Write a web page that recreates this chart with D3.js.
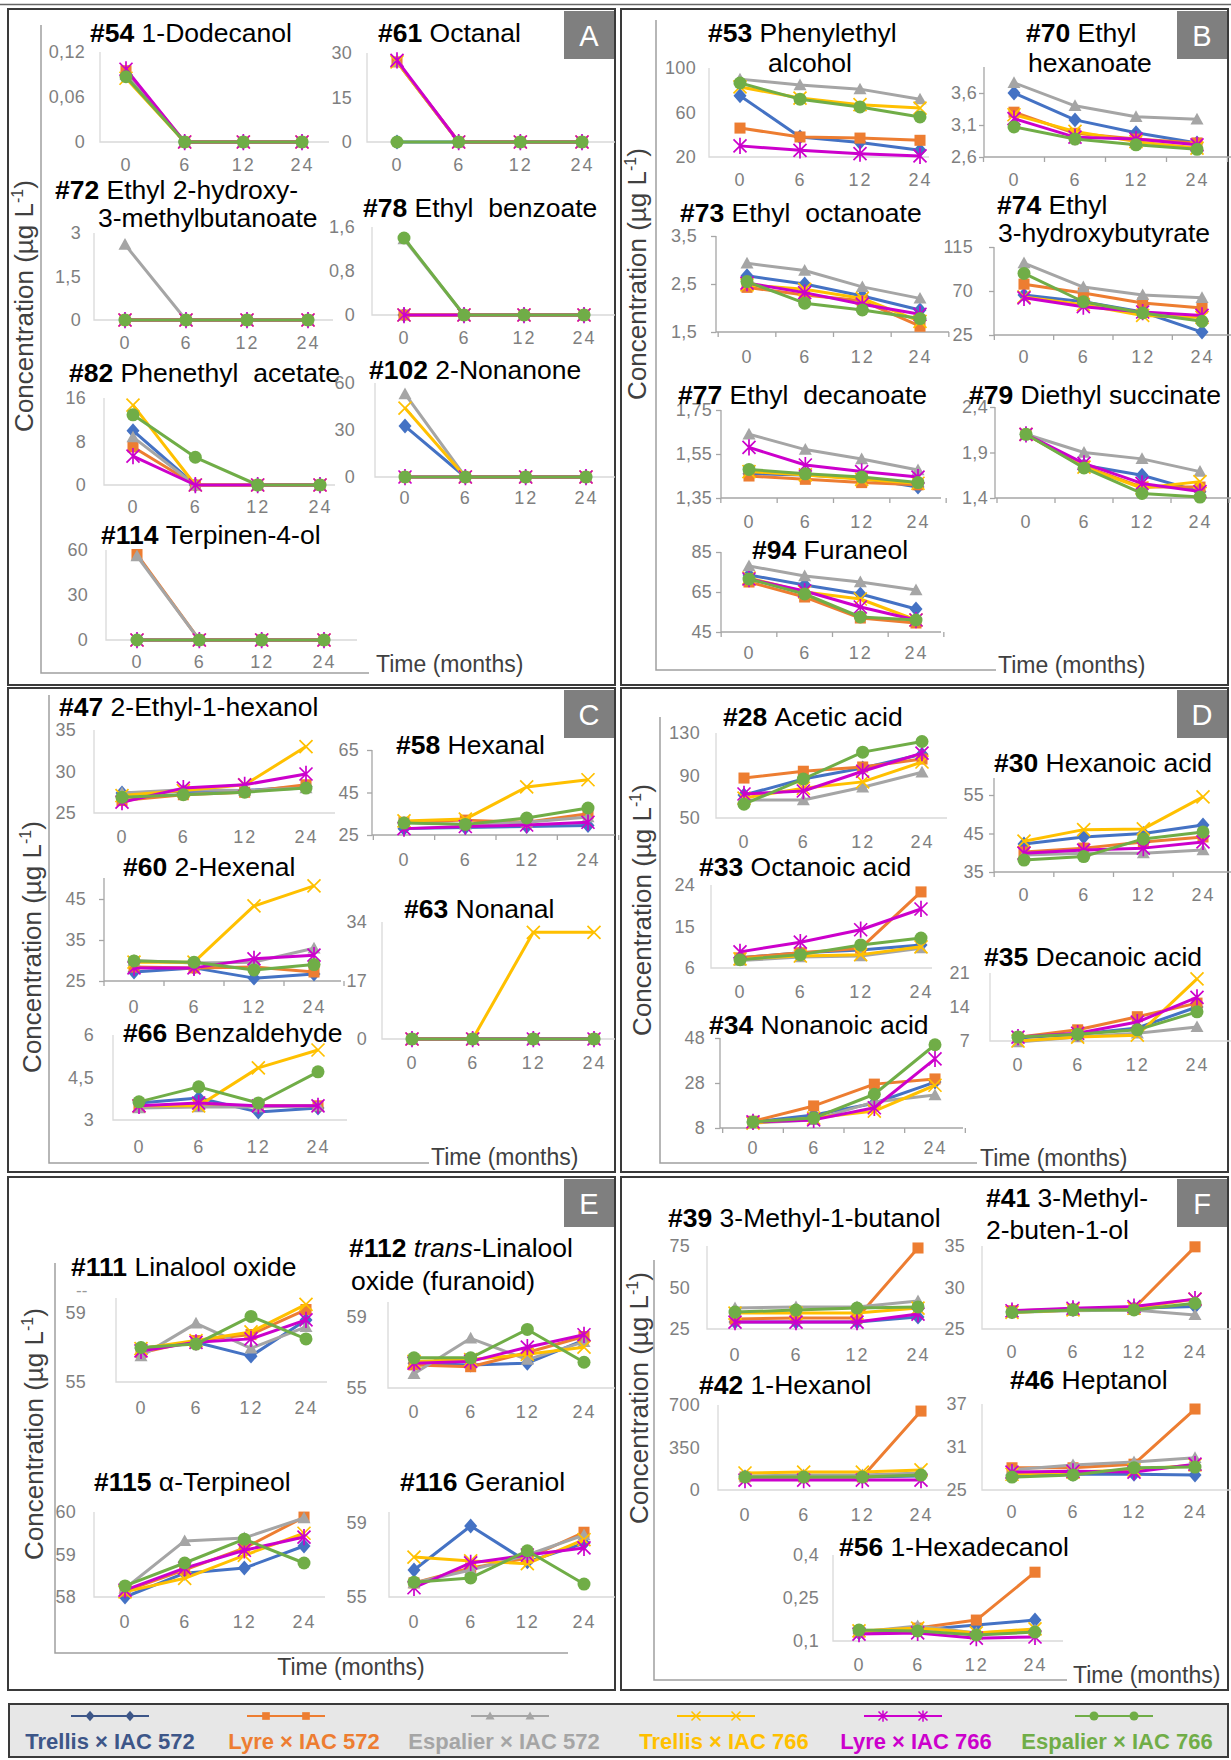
<!DOCTYPE html>
<html>
<head>
<meta charset="utf-8">
<script src="https://cdn.jsdelivr.net/npm/d3@7"></script>
<style>
  html, body { margin: 0; padding: 0; background: #fff; }
  svg { display: block; font-family: "Liberation Sans", Arial, sans-serif; }
</style>
</head>
<body>
<svg id="fig" width="1231" height="1760"></svg>
<script>
// storage time categories (months)
const months = ["0", "6", "12", "24"];
const seriesNames = ["Trellis × IAC 572", "Lyre × IAC 572", "Espalier × IAC 572",
                     "Trellis × IAC 766", "Lyre × IAC 766", "Espalier × IAC 766"];

// values per compound, one row per series (same order as seriesNames)
const c54 = [[0.09,0,0,0],[0.095,0,0,0],[0.09,0,0,0],[0.085,0,0,0],[0.097,0,0,0],[0.087,0,0,0]];
const c61 = [[0,0,0,0],[27,0,0,0],[27,0,0,0],[27,0,0,0],[27.5,0,0,0],[0,0,0,0]];
const c72 = [[0,0,0,0],[0,0,0,0],[2.6,0,0,0],[0,0,0,0],[0,0,0,0],[0,0,0,0]];
const c78 = [[0,0,0,0],[0,0,0,0],[1.38,0,0,0],[0,0,0,0],[0,0,0,0],[1.4,0,0,0]];
const c82 = [[10,0,0,0],[7,0,0,0],[8.8,0,0,0],[14.7,0,0,0],[5.3,0,0,0],[12.9,5.1,0,0]];
const c102 = [[32.5,0,0,0],[0,0,0,0],[53,0,0,0],[44,0,0,0],[0,0,0,0],[0,0,0,0]];
const c114 = [[0,0,0,0],[57,0,0,0],[56,0,0,0],[0,0,0,0],[0,0,0,0],[0,0,0,0]];

const c53 = [[75,38,33,26],[46,38,37,35],[90,84.7,81,72],[83,73,67,64],[30,26,23,21],[86.5,72,65,56]];
const c70 = [[3.6,3.18,2.98,2.82],[3.3,2.97,2.88,2.82],[3.76,3.4,3.23,3.19],[3.26,3.0,2.84,2.74],[3.2,2.91,2.88,2.79],[3.07,2.88,2.79,2.72]];
const c73 = [[2.67,2.5,2.25,1.96],[2.43,2.27,2.15,1.62],[2.93,2.78,2.44,2.2],[2.48,2.39,2.2,1.72],[2.52,2.32,2.08,1.87],[2.55,2.1,1.96,1.78]];
const c74 = [[66,59,48.5,28],[77,68,57.7,52.6],[98.6,74,66,63],[64,56,45,43],[63,54,48.5,45],[88,59,47.5,39]];
const c77 = [[1.46,1.455,1.44,1.4],[1.45,1.435,1.42,1.41],[1.64,1.57,1.527,1.477],[1.47,1.455,1.435,1.417],[1.58,1.5,1.47,1.445],[1.48,1.46,1.445,1.42]];
const c79 = [[2.1,1.76,1.65,1.47],[2.1,1.75,1.52,1.52],[2.1,1.9,1.83,1.69],[2.1,1.74,1.51,1.58],[2.1,1.78,1.56,1.47],[2.1,1.73,1.45,1.41]];
const c94 = [[73.5,68.5,64,56.5],[70,62.5,52,49.5],[78,73,70,66],[72,65,61.5,51],[71.5,65.5,57.5,51],[71.5,64,52.5,51]];

const c47 = [[27.4,27.6,27.7,28.2],[26.5,27.2,27.5,28.4],[27.4,27.8,27.7,28],[27.1,27.7,28.4,33],[26.3,28,28.4,29.7],[26.9,27.2,27.5,28]];
const c58 = [[28,28.5,29,29.5],[31,32,31,35],[31,30,31,33.5],[31.6,32.5,47.6,51],[28,29,29.7,31],[30.6,30,33,37.7]];
const c60 = [[27.2,28.2,25.7,26.7],[28.4,28.2,28.4,27.2],[30,29.4,29.6,33],[29.6,29.6,43.3,48.2],[28.2,28.2,30.4,31.3],[29.9,29.6,27.7,29]];
const c63 = [[0,0,0,0],[0,0,0,0],[0,0,0,0],[0,0,31,31],[0,0,0,0],[0,0,0,0]];
const c66 = [[3.6,3.78,3.28,3.42],[3.46,3.5,3.5,3.5],[3.42,3.46,3.46,3.5],[3.5,3.5,4.84,5.47],[3.5,3.6,3.5,3.5],[3.64,4.17,3.6,4.7]];

const c28 = [[71.6,86.7,97,110],[87.6,94,98,105.5],[67,67,79,93],[68.8,78,84,102.7],[72.6,75.4,94,111],[63,86.7,112,122]];
const c30 = [[42.3,44.1,45,47.2],[40.2,41.2,42.8,44.1],[39.4,39.9,39.9,40.7],[43,46,46.2,54.5],[39.9,40.7,41.2,42.8],[38.1,39,43.6,45.4]];
const c33 = [[8.2,9.3,9.9,11],[8.2,9.3,10.3,22.5],[7.6,8.4,8.6,10.3],[8,8.6,8.9,10.6],[9.5,11.6,14.3,18.8],[7.8,8.9,11,12.5]];
const c34 = [[10.7,13.8,19,28.4],[11,17.8,27.5,29.8],[10.2,11.6,19.6,22.7],[10.2,12.4,15.5,27],[10.7,11.6,17,38.7],[10.7,12.4,23,45]];
const c35 = [[7.6,8.4,9.7,14],[7.8,9.3,12,14.8],[6.8,7.8,8.6,9.9],[7,7.8,8.2,19.8],[7.8,8.6,10.9,16],[7.8,8.4,9.3,13]];

const c111 = [[56.94,57.3,56.5,58.6],[56.7,57.4,57.75,59.2],[56.5,58.4,56.95,58.2],[56.94,57.4,57.9,59.5],[56.8,57.3,57.5,58.6],[57,57.2,58.8,57.5]];
const c112 = [[56.4,56.3,56.4,57.7],[56.3,56.2,57,57.9],[55.8,57.8,56.6,57.6],[56.5,56.6,56.9,57.3],[56.4,56.5,57.3,58.0],[56.7,56.7,58.3,56.45]];
const c115 = [[58.0,58.56,58.68,59.2],[58.14,58.64,59.15,59.88],[58.2,59.32,59.39,59.86],[58.12,58.44,58.98,59.5],[58.16,58.68,59.1,59.41],[58.26,58.8,59.36,58.8]];
const c116 = [[56.46,58.84,56.9,57.9],[55.76,56.57,57.1,58.5],[55.76,56.46,57.27,58.35],[57.16,56.95,56.8,58.1],[55.5,56.84,57.27,57.65],[55.8,56.03,57.5,55.7]];

const c39 = [[29.2,29.2,29.2,32.2],[31,31.6,31.6,73.8],[37.6,38.3,38.3,41.9],[34.6,34.6,34.6,37.6],[29.2,29.2,29.2,34],[35.2,36.4,37.6,38.3]];
const c41 = [[27.1,27.4,27.5,27.7],[27.2,27.4,27.5,34.9],[27,27.2,27.3,26.7],[27,27.3,27.5,28.6],[27.2,27.5,27.7,28.6],[27,27.3,27.3,28.1]];
const c42 = [[107,107,107,115],[107,107,107,650],[115,123,123,140],[140,148,148,165],[82,82,82,82],[107,107,107,123]];
const c46 = [[27.1,27.2,27.2,27.1],[28.1,28.1,28.6,36.3],[27.8,28.5,28.9,29.5],[27.2,27.5,27.8,28.5],[27.5,27.6,27.5,28.6],[26.8,27.1,28.1,28.2]];
const c56 = [[0.128,0.138,0.156,0.173],[0.131,0.145,0.173,0.34],[0.131,0.152,0.128,0.138],[0.135,0.145,0.128,0.142],[0.124,0.128,0.11,0.114],[0.138,0.135,0.121,0.131]];

// compound number, name lines (*...* = italic), values, y tick labels
const compounds = [
  { id: "54", name: ["1-Dodecanol"], values: c54, ticks: [0, 0.06, 0.12] },
  { id: "61", name: ["Octanal"], values: c61, ticks: [0, 15, 30] },
  { id: "72", name: ["Ethyl 2-hydroxy-", "3-methylbutanoate"], values: c72, ticks: [0, 1.5, 3] },
  { id: "78", name: ["Ethyl  benzoate"], values: c78, ticks: [0, 0.8, 1.6] },
  { id: "82", name: ["Phenethyl  acetate"], values: c82, ticks: [0, 8, 16] },
  { id: "102", name: ["2-Nonanone"], values: c102, ticks: [0, 30, 60] },
  { id: "114", name: ["Terpinen-4-ol"], values: c114, ticks: [0, 30, 60] },
  { id: "53", name: ["Phenylethyl", "alcohol"], values: c53, ticks: [20, 60, 100] },
  { id: "70", name: ["Ethyl", "hexanoate"], values: c70, ticks: [2.6, 3.1, 3.6] },
  { id: "73", name: ["Ethyl  octanoate"], values: c73, ticks: [1.5, 2.5, 3.5] },
  { id: "74", name: ["Ethyl", "3-hydroxybutyrate"], values: c74, ticks: [25, 70, 115] },
  { id: "77", name: ["Ethyl  decanoate"], values: c77, ticks: [1.35, 1.55, 1.75] },
  { id: "79", name: ["Diethyl succinate"], values: c79, ticks: [1.4, 1.9, 2.4] },
  { id: "94", name: ["Furaneol"], values: c94, ticks: [45, 65, 85] },
  { id: "47", name: ["2-Ethyl-1-hexanol"], values: c47, ticks: [25, 30, 35] },
  { id: "58", name: ["Hexanal"], values: c58, ticks: [25, 45, 65] },
  { id: "60", name: ["2-Hexenal"], values: c60, ticks: [25, 35, 45] },
  { id: "63", name: ["Nonanal"], values: c63, ticks: [0, 17, 34] },
  { id: "66", name: ["Benzaldehyde"], values: c66, ticks: [3, 4.5, 6] },
  { id: "28", name: ["Acetic acid"], values: c28, ticks: [50, 90, 130] },
  { id: "30", name: ["Hexanoic acid"], values: c30, ticks: [35, 45, 55] },
  { id: "33", name: ["Octanoic acid"], values: c33, ticks: [6, 15, 24] },
  { id: "34", name: ["Nonanoic acid"], values: c34, ticks: [8, 28, 48] },
  { id: "35", name: ["Decanoic acid"], values: c35, ticks: [7, 14, 21] },
  { id: "111", name: ["Linalool oxide"], values: c111, ticks: [55, 59] },
  { id: "112", name: ["*trans*-Linalool", "oxide (furanoid)"], values: c112, ticks: [55, 59] },
  { id: "115", name: ["α-Terpineol"], values: c115, ticks: [58, 59, 60] },
  { id: "116", name: ["Geraniol"], values: c116, ticks: [55, 59] },
  { id: "39", name: ["3-Methyl-1-butanol"], values: c39, ticks: [25, 50, 75] },
  { id: "41", name: ["3-Methyl-", "2-buten-1-ol"], values: c41, ticks: [25, 30, 35] },
  { id: "42", name: ["1-Hexanol"], values: c42, ticks: [0, 350, 700] },
  { id: "46", name: ["Heptanol"], values: c46, ticks: [25, 31, 37] },
  { id: "56", name: ["1-Hexadecanol"], values: c56, ticks: [0.1, 0.25, 0.4] },
];

// layout of every small chart: title line origins, pixel rows of first/last tick,
// y-axis x, right edge of y labels, centres of the 0 and 24 labels, x label row, axis end, tick marks
const layout = {
  "54":  { t: [[90, 42]], y: [142, 52], ax: 100, labR: 85, x0: 126, x24: 302, xl: 165, end: 329 },
  "61":  { t: [[378, 42]], y: [142, 53], ax: 367, labR: 352, x0: 397, x24: 582, xl: 165, end: 615 },
  "72":  { t: [[55, 199], [98, 227]], y: [320, 233], ax: 94, labR: 81, x0: 125, x24: 308, xl: 343, end: 333 },
  "78":  { t: [[363, 217]], y: [315, 227], ax: 372, labR: 355, x0: 404, x24: 584, xl: 338, end: 615 },
  "82":  { t: [[69, 382]], y: [485, 398], ax: 104, labR: 86, x0: 133, x24: 320, xl: 507, end: 335 },
  "102": { t: [[369, 379]], y: [477, 383], ax: 375, labR: 355, x0: 405, x24: 586, xl: 498, end: 615 },
  "114": { t: [[101, 544]], y: [640, 550], ax: 106, labR: 88, x0: 137, x24: 324, xl: 662, end: 357 },

  "53":  { t: [[708, 42], [768, 72]], y: [157, 68], ax: 709, labR: 696, x0: 740, x24: 920, xl: 180, end: 929 },
  "70":  { t: [[1026, 42], [1028, 72]], y: [157, 93], top: 67, ax: 984, labR: 977, x0: 1014, x24: 1197, xl: 180, end: 1231, tk: true },
  "73":  { t: [[680, 222]], y: [332, 236], ax: 716, labR: 697, x0: 747, x24: 920, xl: 357, end: 949, tk: true },
  "74":  { t: [[997, 214], [998, 242]], y: [335, 247], ax: 994, labR: 973, x0: 1024, x24: 1202, xl: 357, end: 1231, tk: true },
  "77":  { t: [[678, 404]], y: [498, 410], ax: 721, labR: 712, x0: 749, x24: 918, xl: 522, end: 941, tk: true },
  "79":  { t: [[969, 404]], y: [498, 407], ax: 995, labR: 988, x0: 1026, x24: 1200, xl: 522, end: 1231, tk: true },
  "94":  { t: [[752, 559]], y: [632, 552], ax: 721, labR: 712, x0: 749, x24: 916, xl: 653, end: 941, tk: true },

  "47":  { t: [[59, 716]], y: [813, 730], ax: 94, labR: 76, x0: 122, x24: 306, xl: 837, end: 335 },
  "58":  { t: [[396, 754]], y: [835, 750], ax: 372, labR: 359, x0: 404, x24: 588, xl: 860, end: 615, tk: true },
  "60":  { t: [[123, 876]], y: [981, 899], top: 878, ax: 104, labR: 86, x0: 134, x24: 314, xl: 1007, end: 341, tk: true },
  "63":  { t: [[404, 918]], y: [1039, 922], ax: 382, labR: 367, x0: 412, x24: 594, xl: 1063, end: 615 },
  "66":  { t: [[123, 1042]], y: [1120, 1035], ax: 113, labR: 94, x0: 139, x24: 318, xl: 1147, end: 347 },

  "28":  { t: [[723, 726]], y: [818, 733], ax: 716, labR: 700, x0: 744, x24: 922, xl: 842, end: 947 },
  "30":  { t: [[994, 772]], y: [872, 795], top: 778, ax: 994, labR: 984, x0: 1024, x24: 1203, xl: 895, end: 1231, tk: true },
  "33":  { t: [[699, 876]], y: [968, 885], ax: 711, labR: 695, x0: 740, x24: 921, xl: 992, end: 932 },
  "34":  { t: [[709, 1034]], y: [1128, 1038], ax: 720, labR: 705, x0: 753, x24: 935, xl: 1148, end: 963, tk: true },
  "35":  { t: [[984, 966]], y: [1041, 973], ax: 990, labR: 970, x0: 1018, x24: 1197, xl: 1065, end: 1231 },

  "111": { t: [[71, 1276]], y: [1382, 1313], top: 1298, ax: 116, labR: 86, x0: 141, x24: 306, xl: 1408, end: 327 },
  "112": { t: [[349, 1257], [351, 1290]], y: [1388, 1317], top: 1302, ax: 388, labR: 367, x0: 414, x24: 584, xl: 1412, end: 615 },
  "115": { t: [[94, 1491]], y: [1597, 1512], ax: 94, labR: 76, x0: 125, x24: 304, xl: 1622, end: 325 },
  "116": { t: [[400, 1491]], y: [1597, 1523], top: 1512, ax: 389, labR: 367, x0: 414, x24: 584, xl: 1622, end: 615 },

  "39":  { t: [[668, 1227]], y: [1329, 1246], ax: 707, labR: 690, x0: 735, x24: 918, xl: 1355, end: 953 },
  "41":  { t: [[986, 1207], [986, 1239]], y: [1329, 1246], ax: 982, labR: 965, x0: 1012, x24: 1195, xl: 1352, end: 1231 },
  "42":  { t: [[699, 1394]], y: [1490, 1405], ax: 718, labR: 700, x0: 745, x24: 921, xl: 1515, end: 957 },
  "46":  { t: [[1010, 1389]], y: [1490, 1404], ax: 982, labR: 967, x0: 1012, x24: 1195, xl: 1512, end: 1231 },
  "56":  { t: [[839, 1556]], y: [1641, 1555], ax: 833, labR: 819, x0: 859, x24: 1035, xl: 1665, end: 1063 },
};

const panels = [
  { k: "A", x: 8, y: 9, w: 607, h: 676, L: [41, 25, 673, 369], time: [376, 672, "start"], yt: [33, 306] },
  { k: "B", x: 621, y: 9, w: 607, h: 676, L: [656, 20, 670, 996], time: [998, 673, "start"], yt: [646, 274] },
  { k: "C", x: 8, y: 688, w: 607, h: 484, L: [49, 695, 1163, 429], time: [431, 1165, "start"], yt: [41, 947] },
  { k: "D", x: 621, y: 688, w: 607, h: 484, L: [660, 717, 1163, 977], time: [980, 1166, "start"], yt: [651, 910] },
  { k: "E", x: 8, y: 1177, w: 607, h: 513, L: [55, 1263, 1653, 568], time: [351, 1675, "middle"], yt: [43, 1434] },
  { k: "F", x: 621, y: 1177, w: 607, h: 513, L: [654, 1260, 1680, 1067], time: [1073, 1683, "start"], yt: [648, 1398] },
];

const colors = ["#4472c4", "#ed7d31", "#a5a5a5", "#ffc000", "#cc00cc", "#70ad47"];
const legendText = ["#3d5688", "#ed7d31", "#a5a5a5", "#ffc000", "#cc00cc", "#70ad47"];
const markers = ["diamond", "square", "triangle", "x", "star", "circle"];

const fmt = d => String(d).replace(".", ",");

function markerPath(type, r) {
  switch (type) {
    case "diamond": return `M0,${-r * 1.15}L${r},0L0,${r * 1.15}L${-r},0Z`;
    case "square": return `M${-r * 0.85},${-r * 0.85}h${r * 1.7}v${r * 1.7}h${-r * 1.7}Z`;
    case "triangle": return `M0,${-r}L${r},${r * 0.8}L${-r},${r * 0.8}Z`;
    case "circle": return d3.symbol(d3.symbolCircle, Math.PI * r * r)();
    case "x": return `M${-r},${-r}L${r},${r}M${-r},${r}L${r},${-r}`;
    case "star": return `M${-r},${-r}L${r},${r}M${-r},${r}L${r},${-r}M0,${-r * 1.25}L0,${r * 1.25}`;
  }
}
const strokeOnly = t => t === "x" || t === "star";

const svg = d3.select("#fig");
svg.append("rect").attr("width", 1231).attr("height", 1760).attr("fill", "#fff");

// frame line on top
svg.append("line").attr("x1", 0).attr("x2", 1231).attr("y1", 4.5).attr("y2", 4.5)
  .attr("stroke", "#666").attr("stroke-width", 1.5);

// panels
panels.forEach(p => {
  svg.append("rect").attr("x", p.x).attr("y", p.y).attr("width", p.w).attr("height", p.h)
    .attr("fill", "none").attr("stroke", "#3a3a3a").attr("stroke-width", 2);
  svg.append("rect").attr("x", p.x + p.w - 51).attr("y", p.y + 2).attr("width", 50).attr("height", 48)
    .attr("fill", "#7f7f7f");
  svg.append("text").attr("x", p.x + p.w - 26).attr("y", p.y + 37).attr("text-anchor", "middle")
    .attr("font-size", 29).attr("fill", "#fff").text(p.k);
  // big L shaped frame
  const [lx, ly1, ly2, lx2] = p.L;
  svg.append("path").attr("d", `M${lx},${ly1}V${ly2}H${lx2}`).attr("fill", "none")
    .attr("stroke", "#a0a0a0").attr("stroke-width", 1.5);
  svg.append("text").attr("x", p.time[0]).attr("y", p.time[1]).attr("text-anchor", p.time[2])
    .attr("font-size", 23).attr("fill", "#404040").text("Time (months)");
  const yt = svg.append("text").attr("transform", `translate(${p.yt[0]},${p.yt[1]}) rotate(-90)`)
    .attr("text-anchor", "middle").attr("font-size", 26).attr("fill", "#404040");
  yt.append("tspan").text("Concentration (µg L");
  yt.append("tspan").attr("font-size", 16).attr("dy", -10).text("-1");
  yt.append("tspan").attr("dy", 10).text(")");
});

// small charts
compounds.forEach(c => {
  const L = layout[c.id];
  const s = (L.x24 - L.x0) / 3;
  const x = d3.scalePoint().domain(months).range([L.x0 - s / 2, L.x24 + s / 2]).padding(0.5);
  const y = d3.scaleLinear().domain([c.ticks[0], c.ticks[c.ticks.length - 1]]).range(L.y);
  const g = svg.append("g");
  const yBottom = L.y[0], yTop = L.top || L.y[1];
  const axisColor = L.tk ? "#a6a6a6" : "#d9d9d9";

  g.append("path").attr("d", `M${L.ax},${yTop}V${yBottom}H${L.end}`)
    .attr("fill", "none").attr("stroke", axisColor).attr("stroke-width", 1.3);

  if (L.tk) {
    const bounds = months.map(m => x(m) - s / 2).concat([x("24") + s / 2]);
    g.selectAll(null).data(bounds).join("line")
      .attr("x1", d => d).attr("x2", d => d).attr("y1", yBottom).attr("y2", yBottom + 5)
      .attr("stroke", axisColor).attr("stroke-width", 1.3);
  }

  const tickSize = L.tk ? 5 : 0;
  const yAxis = d3.axisLeft(y).tickValues(c.ticks).tickFormat(fmt)
    .tickSize(tickSize).tickPadding(L.ax - L.labR - tickSize);
  g.append("g").attr("transform", `translate(${L.ax},0)`).call(yAxis)
    .call(a => a.select(".domain").remove())
    .call(a => a.selectAll("line").attr("stroke", axisColor).attr("stroke-width", 1.3))
    .call(a => a.selectAll("text").attr("fill", "#7f7f7f").attr("font-size", 18)
      .attr("font-family", "Liberation Sans, Arial, sans-serif").attr("letter-spacing", 0.3));

  const xAxis = d3.axisBottom(x).tickSize(0).tickPadding(L.xl - yBottom - 7);
  g.append("g").attr("transform", `translate(0,${yBottom})`).call(xAxis)
    .call(a => a.select(".domain").remove())
    .call(a => a.selectAll("text").attr("fill", "#7f7f7f").attr("font-size", 18)
      .attr("font-family", "Liberation Sans, Arial, sans-serif").attr("letter-spacing", 2));

  // series
  c.values.forEach((vals, i) => {
    const pts = vals.map((v, j) => [x(months[j]), y(v)]);
    g.append("path").attr("d", d3.line()(pts)).attr("fill", "none")
      .attr("stroke", colors[i]).attr("stroke-width", 3).attr("stroke-linejoin", "round");
    g.selectAll(null).data(pts).join("path")
      .attr("transform", p => `translate(${p[0]},${p[1]})`)
      .attr("d", markerPath(markers[i], strokeOnly(markers[i]) ? 6.5 : 6.5))
      .attr("fill", strokeOnly(markers[i]) ? "none" : colors[i])
      .attr("stroke", colors[i]).attr("stroke-width", strokeOnly(markers[i]) ? 1.7 : 0);
  });

  // title
  L.t.forEach((pos, k) => {
    const t = g.append("text").attr("x", pos[0]).attr("y", pos[1]).attr("font-size", 26.5)
      .attr("fill", "#000").attr("xml:space", "preserve");
    if (k === 0) t.append("tspan").attr("font-weight", "bold").text("#" + c.id + " ");
    c.name[k].split("*").forEach((part, j) => {
      if (!part) return;
      const sp = t.append("tspan").text(part);
      if (j % 2 === 1) sp.attr("font-style", "italic");
    });
  });
});

// stray dash under #111 title
svg.append("text").attr("x", 76).attr("y", 1296).attr("font-size", 17).attr("fill", "#999").text("--");

// legend
const leg = svg.append("g");
leg.append("rect").attr("x", 9).attr("y", 1704).attr("width", 1219).attr("height", 53)
  .attr("fill", "#e7e7e7").attr("stroke", "#3a3a3a").attr("stroke-width", 2);
const legLine = [110, 286, 510, 716, 903, 1114];
const legTextX = [110, 304, 504, 724, 916, 1117];
seriesNames.forEach((name, i) => {
  const cx = legLine[i];
  const col = i === 0 ? legendText[0] : colors[i];
  leg.append("line").attr("x1", cx - 39).attr("x2", cx + 39).attr("y1", 1716).attr("y2", 1716)
    .attr("stroke", col).attr("stroke-width", 2);
  [cx - 20, cx + 20].forEach(mx => {
    leg.append("path").attr("transform", `translate(${mx},1716)`)
      .attr("d", markerPath(markers[i], 4.5))
      .attr("fill", strokeOnly(markers[i]) ? "none" : col)
      .attr("stroke", col)
      .attr("stroke-width", strokeOnly(markers[i]) ? 1.5 : 0);
  });
  leg.append("text").attr("x", legTextX[i]).attr("y", 1749).attr("text-anchor", "middle")
    .attr("font-size", 22).attr("font-weight", "bold").attr("fill", legendText[i]).text(name);
});
</script>
</body>
</html>
